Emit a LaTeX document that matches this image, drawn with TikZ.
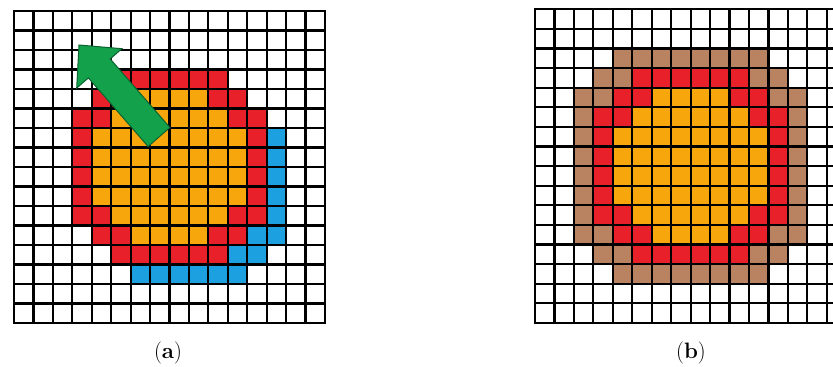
\documentclass[tikz,border=0pt]{standalone}
\usepackage{tikz}
\usetikzlibrary{calc}
\definecolor{cOr}{HTML}{F7A70B}
\definecolor{cRd}{HTML}{E8202A}
\definecolor{cBl}{HTML}{1CA0E0}
\definecolor{cBr}{HTML}{B98260}
\definecolor{cGn}{HTML}{14A14B}
\definecolor{cGd}{HTML}{0B6331}
\tikzset{
  gl/.style={draw=black,line width=.66mm,line cap=rect},
  orc/.style={fill=cOr},
  rdc/.style={fill=cRd},
  blc/.style={fill=cBl},
  brc/.style={fill=cBr},
  arw/.style={fill=cGn,draw=cGd,line width=.3mm,line join=miter},
  lbl/.style={font=\fontsize{19}{22}\selectfont},
}
% a run of cells in one row: row, first col, last col, style
\newcommand\band[4]{\fill[#4] (#2,#1) rectangle (#3+1,#1+1);}

\begin{document}
\begin{tikzpicture}[x=.3mm,y=-.3mm]
\useasboundingbox (0,0) rectangle (833,367);
\clip (0,0) rectangle (833,367);
\def\core{\band{3}{5}{10}{rdc}
  \band{4}{4}{11}{rdc} \band{4}{6}{9}{orc}
  \band{5}{3}{12}{rdc} \band{5}{5}{10}{orc}
  \foreach \r in {6,...,9}{\band{\r}{3}{12}{rdc} \band{\r}{4}{11}{orc}}
  \band{10}{3}{12}{rdc} \band{10}{5}{10}{orc}
  \band{11}{4}{11}{rdc} \band{11}{6}{9}{orc}
  \band{12}{5}{10}{rdc}}
\def\grid{\foreach \i in {0,...,16}{\draw[gl] (\i,0) -- (\i,16) (0,\i) -- (16,\i);}}
% ---- (a) with the moving front
\begin{scope}[shift={(14,11)},x=5.83mm,y=-5.85mm]
  \core
  \foreach \r in {6,...,10}{\band{\r}{13}{13}{blc}}
  \band{11}{12}{13}{blc} \band{12}{11}{12}{blc} \band{13}{6}{11}{blc}
  \grid
\end{scope}
\draw[arw] (148.1,146.5) -- (88.4,77.9) -- (76.7,88.1) -- (79,45)
  -- (121.9,48.7) -- (110.2,58.9) -- (169.9,127.5) -- cycle;
\node[lbl] (la) at (168,353) {(\textbf{a})};
% ---- (b) with the full ring
\begin{scope}[shift={(535,9.3)},x=5.835mm,y=-5.88mm]
  \core
  \band{2}{4}{11}{brc}
  \band{3}{3}{4}{brc} \band{3}{11}{12}{brc}
  \band{4}{2}{3}{brc} \band{4}{12}{13}{brc}
  \foreach \r in {5,...,10}{\band{\r}{2}{2}{brc} \band{\r}{13}{13}{brc}}
  \band{11}{2}{3}{brc} \band{11}{12}{13}{brc}
  \band{12}{3}{4}{brc} \band{12}{11}{12}{brc}
  \band{13}{4}{11}{brc}
  \grid
\end{scope}
\node[lbl] (lb) at (691,353) {(\textbf{b})};
\end{tikzpicture}
\end{document}
